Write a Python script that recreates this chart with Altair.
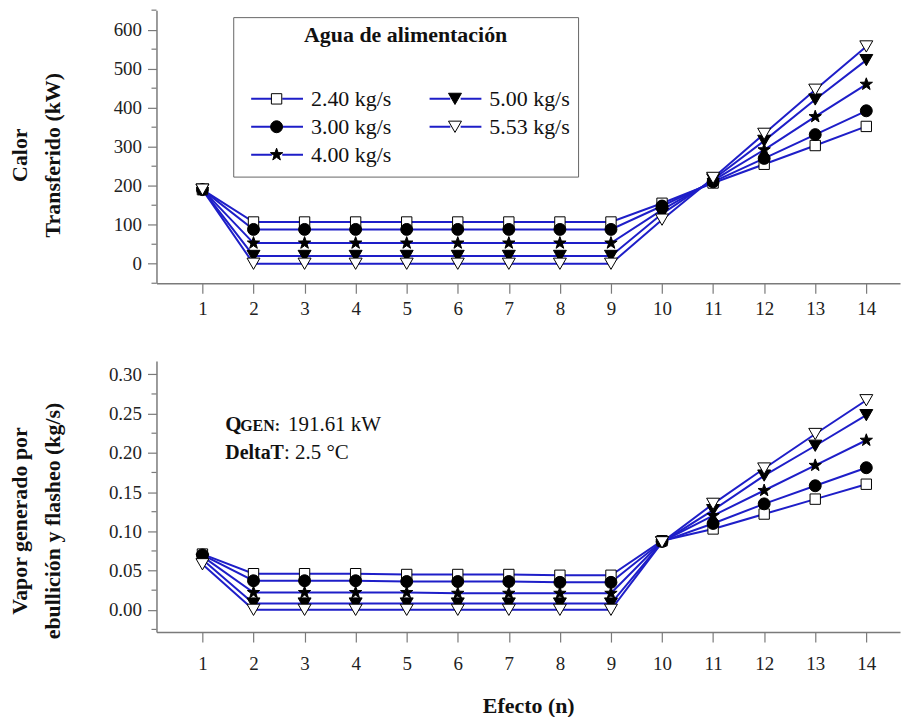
import altair as alt
import pandas as pd

# ---------------- data ----------------
efectos = list(range(1, 15))
series = ["2.40 kg/s", "3.00 kg/s", "4.00 kg/s", "5.00 kg/s", "5.53 kg/s"]

calor_240 = [190, 107, 107, 107, 107, 107, 107, 107, 107, 155, 207, 255, 303, 352]
calor_300 = [190, 88, 88, 88, 88, 88, 88, 88, 88, 148, 210, 270, 331, 392]
calor_400 = [190, 53, 53, 53, 53, 53, 53, 53, 53, 138, 213, 292, 377, 460]
calor_500 = [190, 20, 20, 20, 20, 20, 20, 20, 20, 128, 216, 315, 421, 522]
calor_553 = [190, 0, 0, 0, 0, 0, 0, 0, 0, 113, 220, 333, 446, 557]

vapor_240 = [0.071, 0.046, 0.046, 0.046, 0.045, 0.045, 0.045, 0.044, 0.044, 0.088, 0.103, 0.122, 0.141, 0.160]
vapor_300 = [0.070, 0.037, 0.037, 0.037, 0.036, 0.036, 0.036, 0.035, 0.035, 0.087, 0.110, 0.135, 0.158, 0.181]
vapor_400 = [0.068, 0.022, 0.022, 0.022, 0.022, 0.021, 0.021, 0.021, 0.021, 0.087, 0.120, 0.152, 0.184, 0.216]
vapor_500 = [0.064, 0.008, 0.008, 0.008, 0.008, 0.008, 0.008, 0.008, 0.008, 0.086, 0.127, 0.171, 0.209, 0.248]
vapor_553 = [0.058, 0.000, 0.000, 0.000, 0.000, 0.000, 0.000, 0.000, 0.000, 0.086, 0.135, 0.180, 0.224, 0.267]

calor_ticks = [0, 100, 200, 300, 400, 500, 600]
calor_minor = [-50, 50, 150, 250, 350, 450, 550, 650]
vapor_ticks = [0.00, 0.05, 0.10, 0.15, 0.20, 0.25, 0.30]
vapor_minor = [-0.025, 0.025, 0.075, 0.125, 0.175, 0.225, 0.275]

legend_title = "Agua de alimentación"
titulo_x = "Efecto (n)"
titulo_calor = ["Calor", "Transferido (kW)"]
titulo_vapor = ["Vapor generado por", "ebullición y flasheo (kg/s)"]
nota_q = "Q"
nota_gen = "GEN:"
nota_qval = "191.61 kW"
nota_dt = "DeltaT"
nota_dtval = ": 2.5 °C"

# ---------------- styles ----------------
FONT = "Liberation Serif"
BLUE = "#1e1ec8"
GRAY = "#7a7a7a"
SYM_SIZE = 2704          # every symbol path lives in the same [-1, 1] box
BOX = "M-1,0M1,0"        # invisible extent so both legend layouts match
SQUARE = BOX + "M-0.2,-0.2H0.2V0.2H-0.2Z"
CIRCLE = BOX + "M-0.23,0A0.23,0.23,0,1,0,0.23,0A0.23,0.23,0,1,0,-0.23,0Z"
STAR = (BOX + "M0,-0.25L0.059,-0.081L0.238,-0.077L0.095,0.031L0.147,0.202L0,0.1"
        "L-0.147,0.202L-0.095,0.031L-0.238,-0.077L-0.059,-0.081Z")
TRI_DOWN = BOX + "M-0.25,-0.217L0.25,-0.217L0,0.217Z"
LINE_SYM = "M-1,0H-0.2M0.2,0H1"

dom = series
dom_l = ["_" + s for s in dom]
shape_rng = [SQUARE, CIRCLE, STAR, TRI_DOWN, TRI_DOWN]
fill_rng = ["white", "black", "black", "black", "white"]

W = 746
H_TOP = 274
H_BOT = 272


def long_df(vals):
    rows = []
    for s, v in zip(series, vals):
        for e, y in zip(efectos, v):
            rows.append({"efecto": e, "valor": y, "serie": s, "serie_l": "_" + s})
    return pd.DataFrame(rows)


df_top = long_df([calor_240, calor_300, calor_400, calor_500, calor_553])
df_bot = long_df([vapor_240, vapor_300, vapor_400, vapor_500, vapor_553])

common_leg = dict(
    orient="none", legendX=77, legendY=7, columns=2, padding=8,
    titleFont=FONT, titleFontSize=22, titleFontWeight="bold", titleLimit=500,
    titleAnchor="middle", titlePadding=38,
    labelFont=FONT, labelFontSize=22, labelLimit=300,
    clipHeight=28, rowPadding=0,
    symbolSize=SYM_SIZE, symbolOffset=9, labelOffset=8,
)
legend_pts = alt.Legend(
    title=legend_title, titleColor="#111", labelColor="#111",
    strokeColor="#666", symbolStrokeWidth=1, symbolOpacity=1, columnPadding=28,
    zindex=2, **common_leg)
# line part of the legend: same grid, no visible texts
legend_lin = alt.Legend(
    title=" ", labelExpr="''", columnPadding=108,
    symbolType=LINE_SYM, symbolStrokeColor=BLUE,
    symbolStrokeWidth=2, zindex=1, **common_leg)


def panel(df, y_dom, y_ticks, y_minor, y_title, title_y, x_title, fmt, with_legend,
          height, lab_pad, tit_pad):
    x_enc = alt.X("efecto:Q", scale=alt.Scale(domain=[0.1, 14.66], nice=False, zero=False),
                  axis=alt.Axis(values=efectos, format="d", tickSize=10, labelPadding=lab_pad,
                                title=x_title, titlePadding=tit_pad, grid=False, labelAngle=0))
    y_enc = alt.Y("valor:Q", scale=alt.Scale(domain=y_dom, nice=False, zero=False),
                  axis=alt.Axis(values=y_ticks, format=fmt, tickSize=9, labelPadding=6,
                                title=y_title, titleX=-137, titleY=title_y,
                                titleAngle=270, titleAlign="center", titleBaseline="middle",
                                titleLineHeight=33, grid=False))
    lines = alt.Chart(df).mark_line(strokeWidth=2).encode(
        x=x_enc, y=y_enc,
        color=alt.Color("serie_l:N", scale=alt.Scale(domain=dom_l, range=[BLUE] * 5),
                        legend=legend_lin if with_legend else None),
    )
    leg = legend_pts if with_legend else None
    pts = alt.Chart(df).mark_point(opacity=1, strokeWidth=1, size=SYM_SIZE).encode(
        x=x_enc, y=y_enc,
        shape=alt.Shape("serie:N", scale=alt.Scale(domain=dom, range=shape_rng), legend=leg),
        fill=alt.Fill("serie:N", scale=alt.Scale(domain=dom, range=fill_rng), legend=leg),
        stroke=alt.Stroke("serie:N", scale=alt.Scale(domain=dom, range=["black"] * 5), legend=leg),
    )
    minor = alt.Chart(pd.DataFrame({"valor": y_minor})).mark_rule(color=GRAY, strokeWidth=1.2).encode(
        y=y_enc, x=alt.value(-5), x2=alt.value(0))
    return alt.layer(lines, pts, minor).properties(width=W, height=height)


top = panel(df_top, [-50, 650], calor_ticks, calor_minor, titulo_calor, 145, None, "d", True,
            H_TOP, 6, 18)
bot = panel(df_bot, [-0.0284, 0.317], vapor_ticks, vapor_minor, titulo_vapor, 160, titulo_x,
            ".2f", False, H_BOT, 13, 22)


def txt(t, x, y, size, weight):
    return alt.Chart(pd.DataFrame({"t": [t]})).mark_text(
        font=FONT, fontSize=size, fontWeight=weight, align="left", baseline="alphabetic",
        color="#111").encode(text="t:N", x=alt.value(x), y=alt.value(y))


notes = alt.layer(
    txt(nota_q, 69, 70, 21, "bold"),
    txt(nota_gen, 84, 70, 16, "bold"),
    txt(nota_qval, 132, 70, 21, "normal"),
    txt(nota_dt, 69, 98, 20, "bold"),
    txt(nota_dtval, 128, 98, 21, "normal"),
)
bot = alt.layer(bot, notes)

chart = alt.vconcat(top, bot, spacing=43, background="white").resolve_scale(
    color="independent", shape="independent", fill="independent", stroke="independent"
).properties(
    padding={"left": 9, "top": 8, "right": 1, "bottom": 0}
).configure_axis(
    domainColor=GRAY, tickColor=GRAY, domainWidth=1.5, tickWidth=1.2,
    labelFont=FONT, labelFontSize=19, labelColor="#222",
    titleFont=FONT, titleFontSize=22, titleFontWeight="bold", titleColor="#111",
).configure_legend(
    labelFont=FONT, titleFont=FONT
).configure_view(stroke=None)

chart.save("out.html", embed_options={"renderer": "svg", "actions": False})
